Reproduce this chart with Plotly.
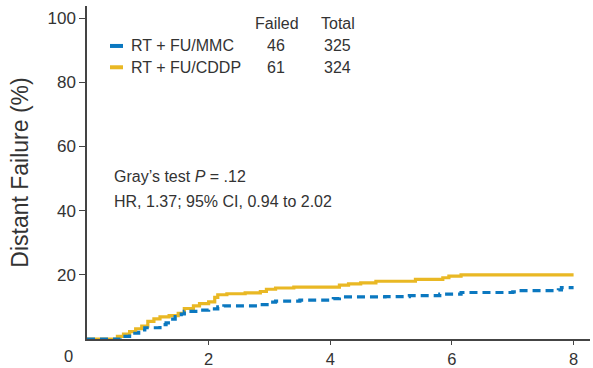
import plotly.graph_objects as go

# Cumulative incidence of distant failure by arm (years, %)
mmc_years = [0, 0.45, 0.55, 0.7, 0.85, 0.95, 1.2, 1.3, 1.37, 1.45, 1.55, 1.6, 1.85, 2.0, 2.15, 2.25,
             2.85, 3.0, 3.1, 3.5, 4.05, 4.15, 4.9, 5.3, 5.8, 6.15, 7.0, 7.1, 7.75, 7.8, 8.0]
mmc_pct = [0, 0, 0.8, 1.8, 2.8, 3.5, 4.5, 5.0, 6.2, 7.0, 7.8, 8.6, 9.0, 9.4, 10.0, 10.3,
           10.7, 11.5, 11.8, 12.1, 12.6, 13.1, 13.2, 13.5, 14.0, 14.5, 14.7, 15.1, 15.3, 16.0, 16.0]

cddp_years = [0, 0.4, 0.5, 0.6, 0.7, 0.8, 0.9, 1.0, 1.1, 1.2, 1.35, 1.5, 1.6, 1.75, 1.85, 2.0, 2.1,
              2.15, 2.3, 2.6, 2.85, 2.95, 3.1, 3.4, 4.15, 4.3, 4.5, 4.75, 5.4, 5.85, 5.95, 6.15, 8.0]
cddp_pct = [0, 0, 0.8, 1.5, 2.3, 3.2, 4.0, 5.5, 6.3, 6.9, 7.3, 8.0, 9.5, 10.3, 11.0, 11.6, 13.0,
            13.8, 14.1, 14.4, 14.8, 15.5, 15.9, 16.2, 16.8, 17.2, 17.5, 18.0, 18.6, 19.1, 19.6, 20.0, 20.0]

arm_names = ["RT + FU/MMC", "RT + FU/CDDP"]
failed = [46, 61]
total = [325, 324]
arm_colors = ["#0b78c0", "#e9b824"]

x_ticks = [2, 4, 6, 8]
y_ticks = [20, 40, 60, 80, 100]

TXT = "#333333"
FONT = "Liberation Sans, Arial, sans-serif"
SMALL = 16

fig = go.Figure()
fig.add_trace(go.Scatter(x=cddp_years, y=cddp_pct, mode="lines", line_shape="hv",
                         line=dict(color=arm_colors[1], width=3.2), showlegend=False))
fig.add_trace(go.Scatter(x=mmc_years, y=mmc_pct, mode="lines", line_shape="hv",
                         line=dict(color=arm_colors[0], width=3.2, dash="8px,5px"), showlegend=False))


def note(x, y, text, anchor="left", size=SMALL):
    fig.add_annotation(xref="paper", yref="paper", x=x, y=y, text=text, showarrow=False,
                       xanchor=anchor, yanchor="middle",
                       font=dict(size=size, color=TXT, family=FONT))


# Legend table drawn as text with short colour swatches
rows_y = [0.88, 0.816]
for i, name in enumerate(arm_names):
    fig.add_shape(type="line", xref="paper", yref="paper",
                  x0=0.0457, x1=0.0716, y0=rows_y[i], y1=rows_y[i],
                  line=dict(color=arm_colors[i], width=4))
    note(0.0835, rows_y[i], name)
    note(0.376, rows_y[i], str(failed[i]), anchor="center")
    note(0.499, rows_y[i], str(total[i]), anchor="center")
note(0.377, 0.946, "Failed", anchor="center")
note(0.499, 0.946, "Total", anchor="center")

# Test statistics
note(0.049, 0.487, "Gray’s test <i>P</i> = .12")
note(0.049, 0.414, "HR, 1.37; 95% CI, 0.94 to 2.02")

# Shared origin label
note(-0.037, -0.052, "0", anchor="center", size=16.5)

fig.update_layout(
    width=593, height=368,
    margin=dict(l=87, r=3, t=6, b=29),
    plot_bgcolor="white", paper_bgcolor="white",
    font=dict(family=FONT, color=TXT),
    xaxis=dict(range=[0, 8.27], tickvals=x_ticks, ticktext=[str(v) for v in x_ticks],
               showgrid=False, zeroline=False, showline=True, linecolor="#444444", linewidth=1.5,
               ticks="outside", ticklen=4, tickcolor="#444444", tickwidth=1.2,
               tickfont=dict(size=16.5, color=TXT), automargin=False),
    yaxis=dict(range=[0, 103.8], tickvals=y_ticks, ticktext=[str(v) for v in y_ticks],
               showgrid=False, zeroline=False, showline=True, linecolor="#444444", linewidth=1.5,
               ticks="outside", ticklen=6, tickcolor="#444444", tickwidth=1.2,
               tickfont=dict(size=17, color=TXT), automargin=False,
               title=dict(text="Distant Failure (%)", font=dict(size=23, color=TXT), standoff=12)),
)

fig.write_html("out.html")
